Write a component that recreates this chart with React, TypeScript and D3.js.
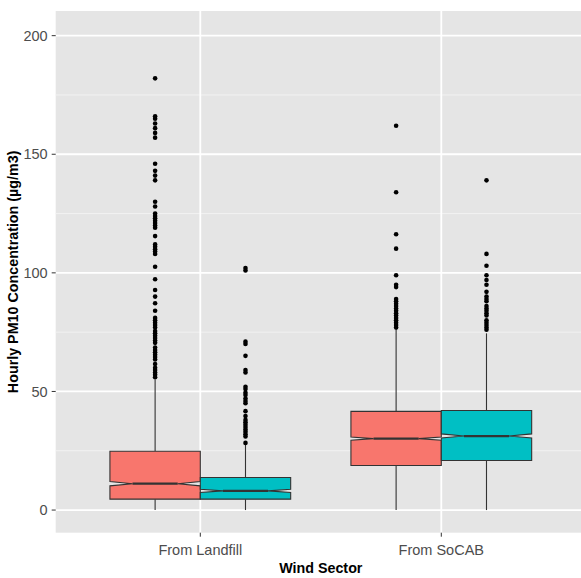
import React from 'react';
import * as d3 from 'd3';

const sectors = ['From Landfill', 'From SoCAB'];
const groups = ['a', 'b'];
const fills = ['#F8766D', '#00BFC4'];
const yTicks = [0, 50, 100, 150, 200];
const yMinor = [25, 75, 125, 175];

// [whiskerLow, q1, median, q3, whiskerHigh, notchLow, notchHigh] per sector, per group
const landfillStats = [
  [0, 4.6, 11.1, 24.8, 55, 10.2, 12.0],
  [0, 4.6, 8.1, 13.7, 27.5, 7.4, 8.8],
];
const socabStats = [
  [0, 18.8, 30.1, 41.6, 76.5, 29.4, 30.8],
  [0, 20.9, 31.2, 42.0, 74.5, 30.4, 32.1],
];

const landfillOutliersA = [182, 166, 165, 163, 161, 159, 157, 146, 143, 141, 139, 130, 128,
  125, 124, 123, 122, 121, 120, 119, 115.5, 112, 111, 110, 109, 108, 102.6, 97.3, 92.8, 90,
  87.2, 84, 81, 80, 79, 78, 77, 75.5, 74.5, 73.5, 72.5, 71.5, 70.5, 68.5, 67.5, 66.5, 65.5,
  64.5, 63.5, 61.6, 60, 59, 58, 57, 56];
const landfillOutliersB = [102, 101, 71, 70, 65, 59, 58, 52, 51, 49.5, 48.5, 47, 46, 45, 41.7,
  39.6, 38, 37, 36, 35, 34, 33, 32, 31, 28.3];
const socabOutliersA = [162, 134, 116.3, 110.2, 99, 95, 94, 89, 88, 87, 86, 85, 84, 83, 82, 81,
  80, 79, 78, 77];
const socabOutliersB = [139, 108, 103, 99, 97, 95, 92, 90, 89, 88, 86, 85, 84, 83, 82, 80, 79,
  78, 77, 76];

const stats = [landfillStats, socabStats];
const outliers = [[landfillOutliersA, landfillOutliersB], [socabOutliersA, socabOutliersB]];

const W = 581;
const H = 578;
const panel = { left: 55.7, right: 585.9, top: 11, bottom: 532.7 };

export default function App() {
  const x = d3.scalePoint<string>().domain(sectors).range([panel.left, panel.right]).padding(0.6);
  const y = d3.scaleLinear().domain([-9.55, 210.4]).range([panel.bottom, panel.top]);
  const step = x.step();
  const dodge = d3.scaleBand<string>().domain(groups).range([-0.375 * step, 0.375 * step]);
  const bw = dodge.bandwidth();

  const boxPath = (s: number[], x0: number) => {
    const x1 = x0 + bw;
    const ind = bw * 0.25;
    const p = d3.path();
    p.moveTo(x0, y(s[3]));
    p.lineTo(x0, y(s[6]));
    p.lineTo(x0 + ind, y(s[2]));
    p.lineTo(x0, y(s[5]));
    p.lineTo(x0, y(s[1]));
    p.lineTo(x1, y(s[1]));
    p.lineTo(x1, y(s[5]));
    p.lineTo(x1 - ind, y(s[2]));
    p.lineTo(x1, y(s[6]));
    p.lineTo(x1, y(s[3]));
    p.closePath();
    return p.toString();
  };

  return (
    <svg width={W} height={H} style={{ position: 'absolute', left: 0, top: 0 }}
      fontFamily="'Liberation Sans', Arial, sans-serif">
      <rect x={0} y={0} width={W} height={H} fill="#ffffff" />
      <rect x={panel.left} y={panel.top} width={panel.right - panel.left}
        height={panel.bottom - panel.top} fill="#E5E5E5" />
      {yMinor.map(v => (
        <line key={'m' + v} x1={panel.left} x2={panel.right} y1={y(v)} y2={y(v)}
          stroke="#F2F2F2" strokeWidth={1} />
      ))}
      {yTicks.map(v => (
        <line key={'g' + v} x1={panel.left} x2={panel.right} y1={y(v)} y2={y(v)}
          stroke="#ffffff" strokeWidth={1.8} />
      ))}
      {sectors.map(c => (
        <line key={'gx' + c} x1={x(c)} x2={x(c)} y1={panel.top} y2={panel.bottom}
          stroke="#ffffff" strokeWidth={1.8} />
      ))}

      {sectors.map((c, i) => groups.map((g, j) => {
        const s = stats[i][j];
        const x0 = (x(c) as number) + (dodge(g) as number);
        const cx = x0 + bw / 2;
        const ind = bw * 0.25;
        return (
          <g key={c + g}>
            <line x1={cx} x2={cx} y1={y(s[0])} y2={y(s[1])} stroke="#333333" strokeWidth={1.1} />
            <line x1={cx} x2={cx} y1={y(s[3])} y2={y(s[4])} stroke="#333333" strokeWidth={1.1} />
            <path d={boxPath(s, x0)} fill={fills[j]} stroke="#333333" strokeWidth={1.1} />
            <line x1={x0 + ind} x2={x0 + bw - ind} y1={y(s[2])} y2={y(s[2])}
              stroke="#333333" strokeWidth={2.2} />
            {outliers[i][j].map((v, k) => (
              <circle key={k} cx={cx} cy={y(v)} r={2.3} fill="#000000" />
            ))}
          </g>
        );
      }))}

      {yTicks.map(v => (
        <g key={'t' + v}>
          <line x1={panel.left - 4} x2={panel.left} y1={y(v)} y2={y(v)} stroke="#333333" strokeWidth={1} />
          <text x={panel.left - 8} y={y(v)} dy="0.36em" textAnchor="end" fontSize={14.5}
            fill="#4D4D4D">{v}</text>
        </g>
      ))}
      {sectors.map(c => (
        <g key={'xt' + c}>
          <line x1={x(c)} x2={x(c)} y1={panel.bottom} y2={panel.bottom + 4} stroke="#333333" strokeWidth={1} />
          <text x={x(c)} y={555} textAnchor="middle" fontSize={14.5} fill="#4D4D4D">{c}</text>
        </g>
      ))}
      <text x={(panel.left + panel.right) / 2} y={573} textAnchor="middle" fontSize={14.3}
        fontWeight="bold" fill="#000000">Wind Sector</text>
      <text transform={`translate(18,${(panel.top + panel.bottom) / 2}) rotate(-90)`}
        textAnchor="middle" fontSize={14.3} fontWeight="bold" fill="#000000">
        Hourly PM10 Concentration (µg/m3)
      </text>
    </svg>
  );
}
